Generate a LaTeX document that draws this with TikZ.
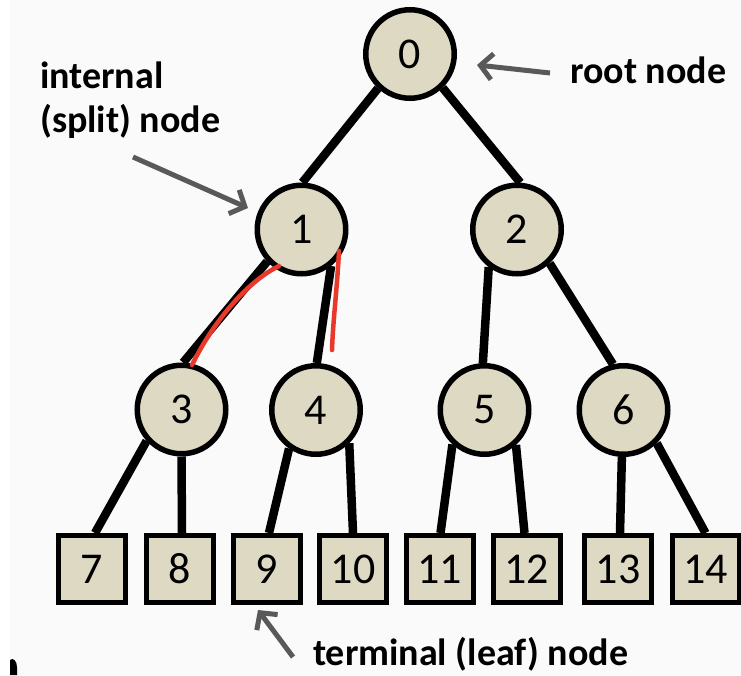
\documentclass[tikz,border=0pt]{standalone}
\usepackage{fontspec}
\setmainfont{Carlito}
\usetikzlibrary{arrows.meta}
\definecolor{nodefill}{HTML}{DDD9C3}
\definecolor{arrowgray}{HTML}{595959}
\definecolor{penred}{HTML}{E8392B}
\definecolor{bgpage}{HTML}{FAFAFA}
\pgfdeclarelayer{bglayer}
\pgfdeclarelayer{edgelayer}
\pgfsetlayers{bglayer,edgelayer,main}
\begin{document}
\begin{tikzpicture}[x=1pt,y=-1pt,
  inner/.style={circle,draw=black,line width=5.5pt,fill=nodefill,minimum size=88.5pt,inner sep=0pt,font=\fontsize{44}{44}\selectfont},
  leaf/.style={rectangle,draw=black,line width=5pt,fill=nodefill,minimum width=67pt,minimum height=67pt,inner sep=0pt,font=\fontsize{44}{44}\selectfont},
  edge/.style={line width=8.5pt,draw=black},
  note/.style={font=\fontsize{38}{44}\selectfont\bfseries,inner sep=0pt,text=black},
  pointer/.style={draw=arrowgray,line width=5pt,-{Straight Barb[length=12pt,width=26pt]}},
  pen/.style={draw=penred,line width=4.5pt,line cap=round}]
\useasboundingbox (0,0) rectangle (741,675);
\begin{pgfonlayer}{bglayer}
  \fill[white] (0,0) rectangle (741,675);
  \fill[bgpage] (10,0) rectangle (741,675);
  \fill[black] (10,660) .. controls (13,657) and (17,661) .. (17,667) -- (17,675) -- (10,675) -- cycle;
\end{pgfonlayer}

% internal nodes
\node[inner] (n0) at (410,54) {0};
\node[inner] (n1) at (301.5,229.5) {1};
\node[inner] (n2) at (517,229.5) {2};
\node[inner] (n3) at (181.5,409.5) {3};
\node[inner] (n4) at (316,410) {4};
\node[inner] (n5) at (484.5,410) {5};
\node[inner] (n6) at (623.5,410) {6};

% leaves
\node[leaf] (l7) at (92,569) {7};
\node[leaf] (l8) at (179.5,569) {8};
\node[leaf] (l9) at (267,569) {9};
\node[leaf] (l10) at (353,569) {10};
\node[leaf] (l11) at (439.5,569) {11};
\node[leaf] (l12) at (526.5,569) {12};
\node[leaf] (l13) at (618,569) {13};
\node[leaf] (l14) at (705.5,569) {14};

\begin{pgfonlayer}{edgelayer}
  \draw[edge] (n0.227) -- (n1.89);
  \draw[edge] (n0.314) -- (n2.86);
  \draw[edge] (n1.223) -- (n3.88);
  \draw[edge] (n1.309) -- (n4.89);
  \draw[edge] (n2.233) -- (n5.92);
  \draw[edge] (n2.314) -- (n6.103);
  \draw[edge] (n3.222) -- ([xshift=3pt]l7.north);
  \draw[edge] (n3.270) -- ([xshift=2.5pt]l8.north);
  \draw[edge] (n4.235) -- ([xshift=2pt]l9.north);
  \draw[edge] (n4.315) -- (l10.north);
  \draw[edge] (n5.227) -- ([xshift=1pt]l11.north);
  \draw[edge] (n5.312) -- ([xshift=-2pt]l12.north);
  \draw[edge] (n6.268) -- ([xshift=2pt]l13.north);
  \draw[edge] (n6.315) -- (l14.north);
\end{pgfonlayer}

% labels
\node[note,anchor=base west] (lblRoot) at (570,83) {root node};
\node[note,anchor=base west,align=left] (lblInternal) at (40,132) {internal\\(split) node};
\node[note,anchor=base west] (lblLeaf) at (313,665) {terminal (leaf) node};

% pointer arrows
\coordinate (rootTail) at (550,73);
\coordinate (rootTip) at (477,65);
\coordinate (intTail) at (133,157);
\coordinate (intTip) at (248,208);
\coordinate (leafTail) at (293,657);
\coordinate (leafTip) at (258,610);
\draw[pointer] (rootTail) -- (rootTip);
\draw[pointer] (intTail) -- (intTip);
\draw[pointer] (leafTail) -- (leafTip);

% red pen strokes
\draw[pen] (279,266) .. controls (250,280) and (215,318) .. (192,365);
\draw[pen] (339,251) .. controls (337,290) and (333,320) .. (332,350);
\end{tikzpicture}
\end{document}
